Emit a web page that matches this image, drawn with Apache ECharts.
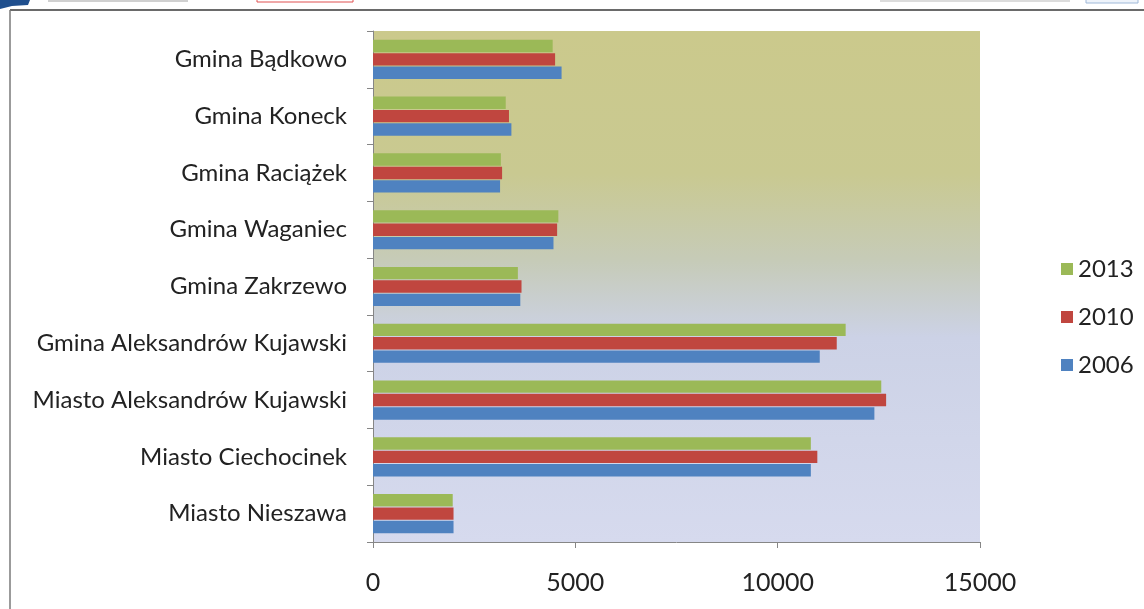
<!DOCTYPE html>
<html>
<head>
<meta charset="utf-8">
<script src="https://cdn.jsdelivr.net/npm/echarts@6/dist/echarts.min.js"></script>
<style>
html,body{margin:0;padding:0;background:#fff;}
#chart{width:1144px;height:609px;}
</style>
</head>
<body>
<div id="chart"></div>
<script>
// Categories, top to bottom
const categories = [
  'Gmina Bądkowo',
  'Gmina Koneck',
  'Gmina Raciążek',
  'Gmina Waganiec',
  'Gmina Zakrzewo',
  'Gmina Aleksandrów Kujawski',
  'Miasto Aleksandrów Kujawski',
  'Miasto Ciechocinek',
  'Miasto Nieszawa'
];
const seriesNames = ['2013', '2010', '2006'];
const values2013 = [4440, 3280, 3160, 4580, 3580, 11680, 12560, 10820, 1970];
const values2010 = [4500, 3360, 3190, 4550, 3670, 11460, 12680, 10980, 1990];
const values2006 = [4660, 3420, 3140, 4460, 3640, 11040, 12390, 10820, 1990];
const xTicks = { min: 0, max: 15000, interval: 5000 };

const colors = ['#9bb957', '#c0463f', '#4f82c0'];
const valueSets = [values2013, values2010, values2006];

const chart = echarts.init(document.getElementById('chart'), null, { renderer: 'canvas' });

const FONT = 'Lato';

chart.setOption({
  animation: false,
  backgroundColor: '#ffffff',
  textStyle: { fontFamily: FONT },
  graphic: [
    // frame lines
    { type: 'line', shape: { x1: 10, y1: 10, x2: 1144, y2: 10 }, style: { stroke: '#6a6a6a', lineWidth: 2 }, silent: true },
    { type: 'line', shape: { x1: 10, y1: 10, x2: 10, y2: 609 }, style: { stroke: '#7a7a7a', lineWidth: 1.5 }, silent: true },
    // header remnants
    { type: 'polygon', shape: { points: [[0, 0], [30, 0], [28, 5], [12, 6], [0, 9]] }, style: { fill: '#1f4f8e' }, silent: true },
    { type: 'rect', shape: { x: 48, y: 0, width: 140, height: 2 }, style: { fill: '#d0d0d0' }, silent: true },
    { type: 'rect', shape: { x: 257, y: -2, width: 96, height: 4 }, style: { fill: 'none', stroke: '#e05050', lineWidth: 1 }, silent: true },
    { type: 'rect', shape: { x: 880, y: 0, width: 190, height: 2 }, style: { fill: '#dcdcdc' }, silent: true },
    { type: 'rect', shape: { x: 1086, y: -2, width: 52, height: 5 }, style: { fill: '#eef3fa', stroke: '#9fb8d8', lineWidth: 1 }, silent: true }
  ],
  legend: {
    orient: 'vertical',
    left: 1056,
    top: 252,
    itemWidth: 12,
    itemHeight: 12,
    itemGap: 24,
    icon: 'rect',
    data: seriesNames,
    textStyle: { fontFamily: FONT, fontSize: 24, color: '#222', lineHeight: 24, padding: [0, 0, 0, 0] },
    selectedMode: false
  },
  grid: {
    left: 373,
    right: 164,
    top: 31,
    bottom: 67,
    containLabel: false,
    show: true,
    borderWidth: 0,
    backgroundColor: {
      type: 'linear', x: 0, y: 0, x2: 0, y2: 1,
      colorStops: [
        { offset: 0, color: '#cbc98c' },
        { offset: 0.28, color: '#c9c991' },
        { offset: 0.45, color: '#c6cbb8' },
        { offset: 0.6, color: '#ccd2e6' },
        { offset: 1, color: '#d6daee' }
      ]
    }
  },
  xAxis: {
    type: 'value',
    min: xTicks.min,
    max: xTicks.max,
    interval: xTicks.interval,
    axisLine: { show: true, lineStyle: { color: '#868686', width: 1 } },
    axisTick: { show: true, length: 6, lineStyle: { color: '#868686' } },
    splitLine: { show: false },
    axisLabel: { fontFamily: FONT, fontSize: 25, color: '#222', margin: 28, formatter: (v) => String(v) }
  },
  yAxis: {
    type: 'category',
    inverse: true,
    data: categories,
    axisLine: { show: true, lineStyle: { color: '#868686', width: 1 } },
    axisTick: { show: true, length: 6, lineStyle: { color: '#868686' } },
    splitLine: { show: false },
    axisLabel: { fontFamily: FONT, fontSize: 24, color: '#222', margin: 26 }
  },
  series: seriesNames.map((name, i) => ({
    name: name,
    type: 'bar',
    data: valueSets[i],
    barWidth: 12.4,
    barGap: '8%',
    itemStyle: { color: colors[i] }
  }))
});
</script>
</body>
</html>
